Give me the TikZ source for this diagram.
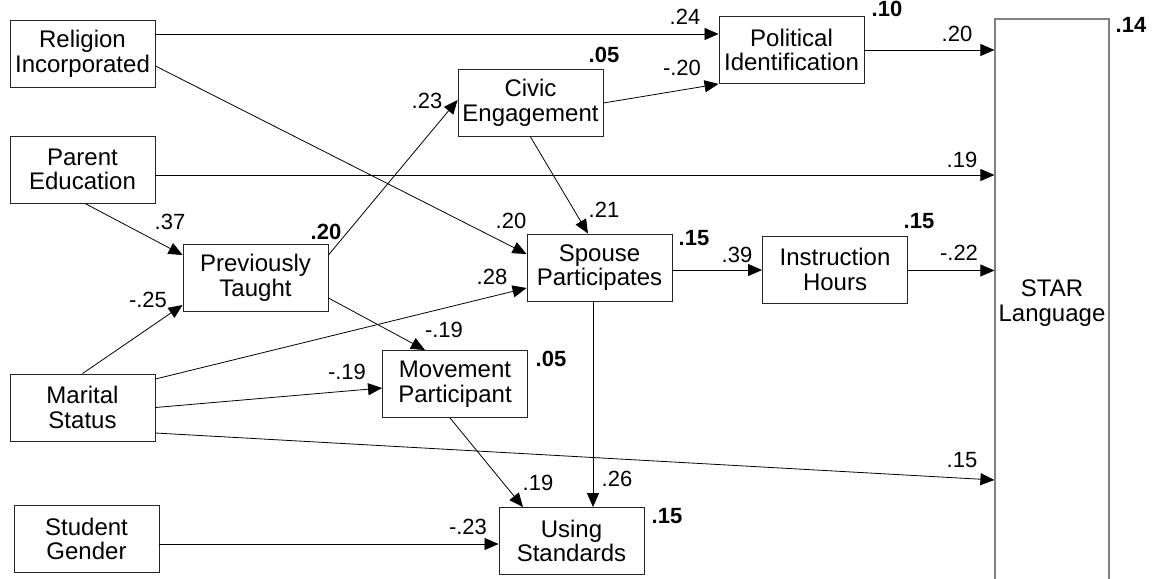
\documentclass[tikz,border=0pt]{standalone}
\usepackage{fontspec}
\setmainfont{Liberation Sans}
\usetikzlibrary{arrows.meta}
\begin{document}
\begin{tikzpicture}[x=1pt,y=-1pt,
  box/.style={draw=black!85,line width=0.9pt,minimum width=145pt,minimum height=67pt,
    inner sep=0pt,align=center,font=\fontsize{24}{24.6}\selectfont},
  bigbox/.style={draw=black!50,line width=1.2pt,minimum width=114pt,minimum height=568pt,
    inner sep=0pt,align=center,font=\fontsize{24}{24.6}\selectfont},
  path/.style={line width=0.8pt,-{Triangle[length=14pt,width=12pt]}},
  coef/.style={inner sep=0pt,font=\fontsize{22}{22}\selectfont},
  rsq/.style={inner sep=0pt,font=\fontsize{22}{22}\selectfont\bfseries}]
\useasboundingbox (0,0) rectangle (1153,578);

% variables
\node[box] (rel) at (82.5,53.5) {Religion\\Incorporated};
\node[box] (par) at (82.5,169.5) {Parent\\Education};
\node[box] (mar) at (82.5,407.5) {Marital\\Status};
\node[box] (stu) at (86.5,539) {Student\\Gender};
\node[box] (prev) at (255.5,278) {Previously\\Taught};
\node[box] (civ) at (530.5,103) {Civic\\Engagement};
\node[box] (pol) at (791.5,50) {Political\\Identification};
\node[box] (spo) at (599.5,267.5) {Spouse\\Participates};
\node[box] (ins) at (835,269.5) {Instruction\\Hours};
\node[box] (mov) at (455,384) {Movement\\Participant};
\node[box] (use) at (571.5,541) {Using\\Standards};
\node[bigbox] (star) at (1052,303) {STAR\\Language};

% paths
\draw[path] ([yshift=19.5]rel.east) coordinate (p1) -- (p1 -| pol.west);
\draw[path] ([yshift=-12.5]rel.east) -- ([yshift=13.5]spo.west);
\draw[path] ([yshift=-5.5]par.east) coordinate (p3) -- (p3 -| star.west);
\draw[path] ([xshift=2.5]par.south) -- ([yshift=23]prev.west);
\draw[path] (mar.north) -- ([yshift=-27]prev.west);
\draw[path] ([yshift=23]prev.east) -- ([yshift=3]civ.west);
\draw[path] ([yshift=-20]prev.east) -- ([xshift=-30]mov.north);
\draw[path] (civ.east) -- (pol.south west);
\draw[path] (civ.south) -- ([xshift=-11.5]spo.north);
\draw[path] (pol.east) coordinate (p10) -- (p10 -| star.west);
\draw[path] ([yshift=-2.5]spo.east) coordinate (p11) -- (p11 -| ins.west);
\draw[path] ([yshift=-1]ins.east) coordinate (p12) -- (p12 -| star.west);
\draw[path] ([yshift=28.5]mar.east) -- ([yshift=-20.5]spo.west);
\draw[path] (mar.east) -- ([yshift=-4]mov.west);
\draw[path] ([yshift=-25.5]mar.east) -- ([yshift=-177]star.west);
\draw[path] ([xshift=-5]mov.south) -- ([xshift=-48.5]use.north);
\draw[path] ([xshift=-6.5]spo.south) coordinate (p17) -- (p17 |- use.north);
\draw[path] ([yshift=-5]stu.east) coordinate (p18) -- (p18 -| use.west);

% path coefficients
\node[coef] (c1) at (685,17) {.24};
\node[coef] (c2) at (511,221) {.20};
\node[coef] (c3) at (962,160) {.19};
\node[coef] (c4) at (170,222) {.37};
\node[coef] (c5) at (148,300) {-.25};
\node[coef] (c6) at (427,101) {.23};
\node[coef] (c7) at (444,330) {-.19};
\node[coef] (c8) at (682,68) {-.20};
\node[coef] (c9) at (604,210) {.21};
\node[coef] (c10) at (957,34) {.20};
\node[coef] (c11) at (737,255) {.39};
\node[coef] (c12) at (959,253) {-.22};
\node[coef] (c13) at (492,277) {.28};
\node[coef] (c14) at (347,372) {-.19};
\node[coef] (c15) at (962,460) {.15};
\node[coef] (c16) at (538,483) {.19};
\node[coef] (c17) at (617,479) {.26};
\node[coef] (c18) at (468,527) {-.23};

% explained variance
\node[rsq] (r1) at (604,55) {.05};
\node[rsq] (r2) at (887,9) {.10};
\node[rsq] (r3) at (1131,25) {.14};
\node[rsq] (r4) at (326,232) {.20};
\node[rsq] (r5) at (694,238) {.15};
\node[rsq] (r6) at (919,221) {.15};
\node[rsq] (r7) at (551,359) {.05};
\node[rsq] (r8) at (667,516) {.15};
\end{tikzpicture}
\end{document}
